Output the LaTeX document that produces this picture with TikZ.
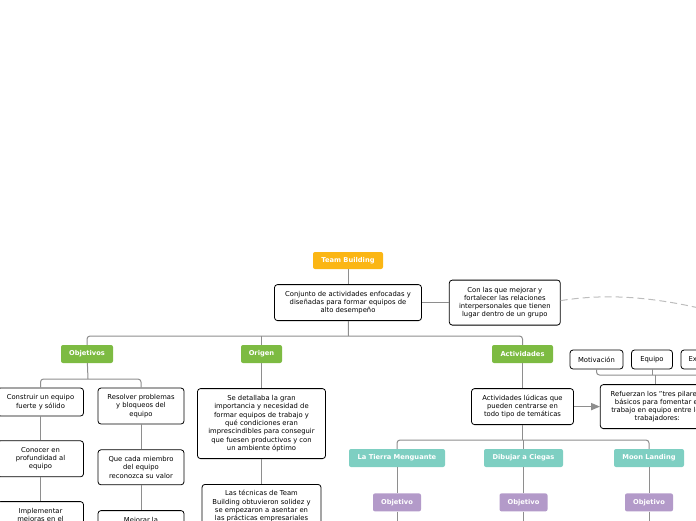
\documentclass[tikz,border=0pt]{standalone}
\usepackage{fontspec}
\setmainfont{DejaVu Sans}
\usepackage{tikz}
\usetikzlibrary{shapes,arrows,positioning}
\definecolor{tbyellow}{HTML}{FBB614}
\definecolor{tbgreen}{HTML}{7DBB42}
\definecolor{tbteal}{HTML}{7ECFC2}
\definecolor{tbpurple}{HTML}{B39AC9}
\definecolor{tbline}{HTML}{8E8E8E}
\definecolor{tbdash}{HTML}{BDBDBD}

\begin{document}
\begin{tikzpicture}[
    x=1pt, y=-1pt,
    node distance=25pt,
    box/.style={rectangle, rounded corners=3pt, draw=black, fill=white, line width=0.8pt, align=center, inner sep=2pt, font=\fontsize{6.8}{8.3}\selectfont},
    tag/.style={rectangle, rounded corners=2pt, fill=#1, text=white, font=\fontsize{6.7}{7}\selectfont\bfseries, minimum height=18pt, inner sep=2pt},
    link/.style={tbline, line width=1pt},
    bar/.style={link, rounded corners=3pt}
]
\useasboundingbox (0,0) rectangle (696,520);
\clip (0,0) rectangle (696,520);

% top
\node[tag=tbyellow, minimum width=70pt, minimum height=17pt] (team) at (348,260.5) {Team Building};
\node[box, minimum width=147pt, minimum height=36pt, below=15pt of team] (conj) {Conjunto de actividades enfocadas y\\diseñadas para formar equipos de\\alto desempeño};
\node[box, minimum width=111pt, minimum height=45pt, right=27pt of conj] (conlas) {Con las que mejorar y\\fortalecer las relaciones\\interpersonales que tienen\\lugar dentro de un grupo};
\coordinate (farright) at (790,335);

% branches
\node[tag=tbgreen, minimum width=52pt] (obj) at (87,354) {Objetivos};
\node[tag=tbgreen, minimum width=41pt] (orig) at (261.5,354) {Origen};
\node[tag=tbgreen, minimum width=61pt] (act) at (522.5,354) {Actividades};

% objetivos
\node[box, minimum width=86pt, minimum height=28pt] (constr) at (40.5,402) {Construir un equipo\\fuerte y sólido};
\node[box, minimum width=86pt, minimum height=36pt] (resol) at (141,406) {Resolver problemas\\y bloqueos del\\equipo};
\node[box, minimum width=86pt, minimum height=36pt, below=24pt of constr] (conoc) {Conocer en\\profundidad al\\equipo};
\node[box, minimum width=86pt, minimum height=36pt, below=24pt of conoc] (implem) {Implementar\\mejoras en el\\equipo};
\node[box, minimum width=86pt, minimum height=35pt, below=25pt of resol] (quecada) {Que cada miembro\\del equipo\\reconozca su valor};
\node[box, minimum width=86pt, minimum height=36pt, below=25pt of quecada] (mejorar) {Mejorar la\\comunicación\\del equipo};

% origen
\node[box, minimum width=128pt, minimum height=70pt, below=25pt of orig] (sedet) {Se detallaba la gran\\importancia y necesidad de\\formar equipos de trabajo y\\qué condiciones eran\\imprescindibles para conseguir\\que fuesen productivos y con\\un ambiente óptimo};
\node[box, minimum width=119pt, minimum height=44pt, below=25pt of sedet] (lastec) {Las técnicas de Team\\Building obtuvieron solidez y\\se empezaron a asentar en\\las prácticas empresariales};

% actividades
\node[box, minimum width=102pt, minimum height=36pt, below=25pt of act] (actlud) {Actividades lúdicas que\\pueden centrarse en\\todo tipo de temáticas};
\node[box, minimum width=114pt, minimum height=44pt, right=26pt of actlud] (refuerz) {Refuerzan los "tres pilares"\\básicos para fomentar el\\trabajo en equipo entre los\\trabajadores:};
\node[box, minimum width=53pt, minimum height=19pt] (motiv) at (596.5,359.5) {Motivación};
\node[box, minimum width=41pt, minimum height=19pt] (equipo) at (652,359.5) {Equipo};
\node[box, minimum width=55pt, minimum height=19pt] (exper) at (708.5,359.5) {Experiencia};

\node[tag=tbteal, minimum width=96pt] (tierra) at (397,458) {La Tierra Menguante};
\node[tag=tbteal, minimum width=79pt] (dibujar) at (523.5,458) {Dibujar a Ciegas};
\node[tag=tbteal, minimum width=70pt] (moon) at (649,458) {Moon Landing};
\node[tag=tbpurple, minimum width=48pt, below=26pt of tierra] (objA) {Objetivo};
\node[tag=tbpurple, minimum width=48pt, below=26pt of dibujar] (objB) {Objetivo};
\node[tag=tbpurple, minimum width=48pt, below=26pt of moon] (objC) {Objetivo};
\coordinate (bottom) at (0,530);

% connectors
\draw[link] (team) -- (conj);
\draw[link] (conj) -- (conlas);
\draw[tbdash, line width=1pt, dash pattern=on 7pt off 4pt] ([yshift=2pt]conlas.east) .. controls (615,292) and (680,296) .. (farright);

\coordinate (mainbar) at (348.5,336);
\draw[link] (conj) -- (mainbar);
\draw[bar] (obj.north) |- (mainbar) -| (act.north);
\draw[link] (orig.north) -- (orig.north |- mainbar);

\coordinate (objbar) at (88,379);
\draw[link] (obj) -- (objbar);
\draw[bar] (constr.north) |- (objbar) -| (resol.north);
\draw[link] (constr) -- (conoc);
\draw[link] (conoc) -- (implem);
\draw[link] (resol) -- (quecada);
\draw[link] (quecada) -- (mejorar);

\draw[link] (orig) -- (sedet);
\draw[link] (sedet) -- (lastec);

\draw[link] (act) -- (actlud);
\draw[link, ->, >=triangle 45] (actlud) -- (refuerz);
\coordinate (pilbar) at (655,375);
\draw[bar] (motiv.south) |- (pilbar) -| (exper.south);
\draw[link] (equipo.south) -- (equipo.south |- pilbar);
\draw[link] (pilbar) -- (pilbar |- refuerz.north);

\coordinate (actbar) at (522.5,440);
\draw[link] (actlud) -- (actbar);
\draw[bar] (tierra.north) |- (actbar) -| (moon.north);
\draw[link] (dibujar.north) -- (dibujar.north |- actbar);
\draw[link] (tierra) -- (objA);
\draw[link] (dibujar) -- (objB);
\draw[link] (moon) -- (objC);
\draw[link] (objA) -- (objA |- bottom);
\draw[link] (objB) -- (objB |- bottom);
\draw[link] (objC) -- (objC |- bottom);
\end{tikzpicture}
\end{document}
